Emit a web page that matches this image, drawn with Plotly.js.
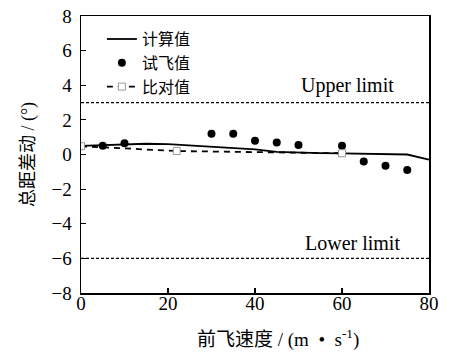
<!DOCTYPE html>
<html>
<head>
<meta charset="utf-8">
<script src="https://cdn.plot.ly/plotly-3.0.1.min.js"></script>
<style>html,body{margin:0;padding:0;background:#fff;}#chart{width:449px;height:355px;}</style>
</head>
<body>
<div id="chart"></div>
<script>
// Data
const calcX = [0, 5, 10, 15, 20, 25, 30, 35, 40, 45, 50, 55, 60, 65, 70, 75, 80];
const calcY = [0.5, 0.55, 0.6, 0.62, 0.6, 0.52, 0.45, 0.38, 0.3, 0.15, 0.1, 0.08, 0.07, 0.04, 0.02, 0.0, -0.3];
const flightX = [5, 10, 30, 35, 40, 45, 50, 60, 65, 70, 75];
const flightY = [0.5, 0.65, 1.2, 1.2, 0.8, 0.7, 0.55, 0.5, -0.4, -0.65, -0.9];
const compX = [0, 22, 60];
const compY = [0.48, 0.2, 0.07];
const limitX = [0, 80];
const upperLimit = 3;
const lowerLimit = -6;
const seriesNames = ['计算值', '试飞值', '比对值'];
const yTicks = [-8, -6, -4, -2, 0, 2, 4, 6, 8];
const xTicks = [0, 20, 40, 60, 80];

const FONT = 'Liberation Serif, Times New Roman, Noto Sans CJK SC, serif';

const traces = [
  {x: calcX, y: calcY, name: seriesNames[0], mode: 'lines', line: {color: '#000', width: 1.8}},
  {x: flightX, y: flightY, name: seriesNames[1], mode: 'markers', marker: {color: '#000', size: 8, symbol: 'circle'}},
  {x: compX, y: compY, name: seriesNames[2], mode: 'lines+markers', line: {color: '#000', width: 1.8, dash: '6px,5px'},
   marker: {symbol: 'square', size: 7, color: '#fff', line: {color: '#999', width: 1}}},
  {x: limitX, y: limitX.map(() => upperLimit), mode: 'lines', showlegend: false, hoverinfo: 'skip',
   line: {color: '#000', width: 1.3, dash: '3px,2px'}},
  {x: limitX, y: limitX.map(() => lowerLimit), mode: 'lines', showlegend: false, hoverinfo: 'skip',
   line: {color: '#000', width: 1.3, dash: '3px,2px'}}
];

const layout = {
  width: 449, height: 355,
  margin: {l: 81, r: 20, t: 16, b: 62},
  paper_bgcolor: '#fff', plot_bgcolor: '#fff',
  font: {family: FONT, size: 17, color: '#000'},
  showlegend: true,
  legend: {x: 0.06, y: 0.978, xanchor: 'left', yanchor: 'top', bgcolor: 'rgba(0,0,0,0)',
           font: {family: 'Noto Sans CJK SC, sans-serif', size: 16}, tracegroupgap: 0, itemwidth: 30},
  // labels-only axis, nudged up so the labels sit as close to the frame as in the reference
  xaxis: {range: [0, 80], tickvals: xTicks, ticks: '', anchor: 'free', position: 0.012,
          showline: false, showgrid: false, zeroline: false,
          tickfont: {family: FONT, size: 19}},
  // frame + inside ticks
  xaxis2: {range: [0, 80], tickvals: xTicks, overlaying: 'x', matches: 'x', anchor: 'y', side: 'bottom',
           ticks: 'inside', ticklen: 5, tickwidth: 1.2, tickcolor: '#000', showticklabels: false,
           showline: true, linecolor: '#000', linewidth: 1.5, mirror: true, showgrid: false, zeroline: false},
  yaxis: {range: [-8, 8], tickvals: yTicks, ticks: 'inside', ticklen: 5, tickwidth: 1.2, tickcolor: '#000',
          showline: true, linecolor: '#000', linewidth: 1.5, mirror: true, showgrid: false, zeroline: false,
          tickfont: {family: FONT, size: 19}, ticklabelstandoff: 4,
          title: {text: '总距差动 / (°)', font: {family: FONT, size: 18}, standoff: 12}},
  annotations: [
    {xref: 'x', yref: 'y', x: 61.2, y: 3.96, text: 'Upper limit', showarrow: false, font: {family: FONT, size: 20}},
    {xref: 'x', yref: 'y', x: 62.3, y: -5.1, text: 'Lower limit', showarrow: false, font: {family: FONT, size: 20}},
    {xref: 'paper', yref: 'paper', x: 0.566, y: -0.165, yanchor: 'middle', xanchor: 'center', showarrow: false,
     text: '前飞速度 / (m  •  s<sup>-1</sup>)', font: {family: FONT, size: 19}}
  ]
};

// an invisible trace to bring the frame axis into existence
traces.push({x: limitX, y: [0, 0], xaxis: 'x2', yaxis: 'y', mode: 'lines', showlegend: false, hoverinfo: 'skip',
             line: {width: 0, color: 'rgba(0,0,0,0)'}});

Plotly.newPlot('chart', traces, layout, {staticPlot: true, displayModeBar: false});
</script>
</body>
</html>
